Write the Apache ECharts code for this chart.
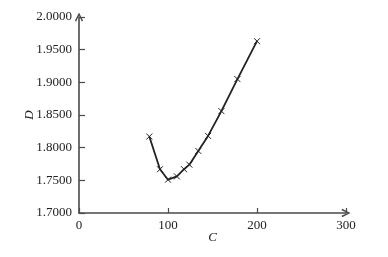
<!DOCTYPE html>
<html>
<head>
<meta charset="utf-8">
<script src="https://cdn.jsdelivr.net/npm/echarts@6/dist/echarts.min.js"></script>
<style>html,body{margin:0;padding:0;background:#fff}#c{width:388px;height:257px}</style>
</head>
<body>
<div id="c"></div>
<script>
var cValues = [79, 91, 100, 110, 118, 124, 134, 145, 160, 178, 200];
var dValues = [1.817, 1.767, 1.751, 1.756, 1.767, 1.774, 1.795, 1.818, 1.856, 1.905, 1.963];
var xTicks = [0, 100, 200, 300];
var yTicks = [1.70, 1.75, 1.80, 1.85, 1.90, 1.95, 2.00];

var chart = echarts.init(document.getElementById('c'));
var pts = cValues.map(function (c, i) { return [c, dValues[i]]; });
var chev = 'path://M0,10 L5,0 L10,10 L8.4,10.9 L5,3.6 L1.6,10.9 Z';
var axisColor = '#4a4a4a';
var font = 'Liberation Serif';
chart.setOption({
  animation: false,
  grid: { left: 79, right: 42, top: 17, bottom: 44 },
  xAxis: {
    type: 'value', min: xTicks[0], max: xTicks[xTicks.length - 1], interval: 100,
    name: 'C', nameLocation: 'middle', nameGap: 18, nameMoveOverlap: false,
    nameTextStyle: { fontFamily: font, fontStyle: 'italic', fontSize: 13, color: '#222' },
    axisLine: { show: true, lineStyle: { color: axisColor, width: 1.6 }, symbol: ['none', chev], symbolSize: [11, 9] },
    axisTick: { show: true, inside: true, length: 5, lineStyle: { color: axisColor, width: 1.2 } },
    axisLabel: { fontFamily: font, fontSize: 13, color: '#222', margin: 6 },
    splitLine: { show: false }
  },
  yAxis: {
    type: 'value', min: yTicks[0], max: yTicks[yTicks.length - 1], interval: 0.05,
    name: 'D', nameLocation: 'middle', nameGap: 43, nameRotate: 90, nameMoveOverlap: false,
    nameTextStyle: { fontFamily: font, fontStyle: 'italic', fontSize: 13, color: '#222' },
    axisLine: { show: true, lineStyle: { color: axisColor, width: 1.6 }, symbol: ['none', chev], symbolSize: [11, 9] },
    axisTick: { show: true, inside: true, length: 6, lineStyle: { color: axisColor, width: 1.2 } },
    axisLabel: { fontFamily: font, fontSize: 13, color: '#222', margin: 7, formatter: function (v) { return v.toFixed(4); } },
    splitLine: { show: false }
  },
  series: [{
    type: 'line',
    data: pts,
    symbol: 'path://M0,0 L10,10 M10,0 L0,10',
    symbolSize: 6,
    lineStyle: { color: '#222', width: 1.8 },
    itemStyle: { color: '#222', borderColor: '#222', borderWidth: 1 }
  }]
});
</script>
</body>
</html>
